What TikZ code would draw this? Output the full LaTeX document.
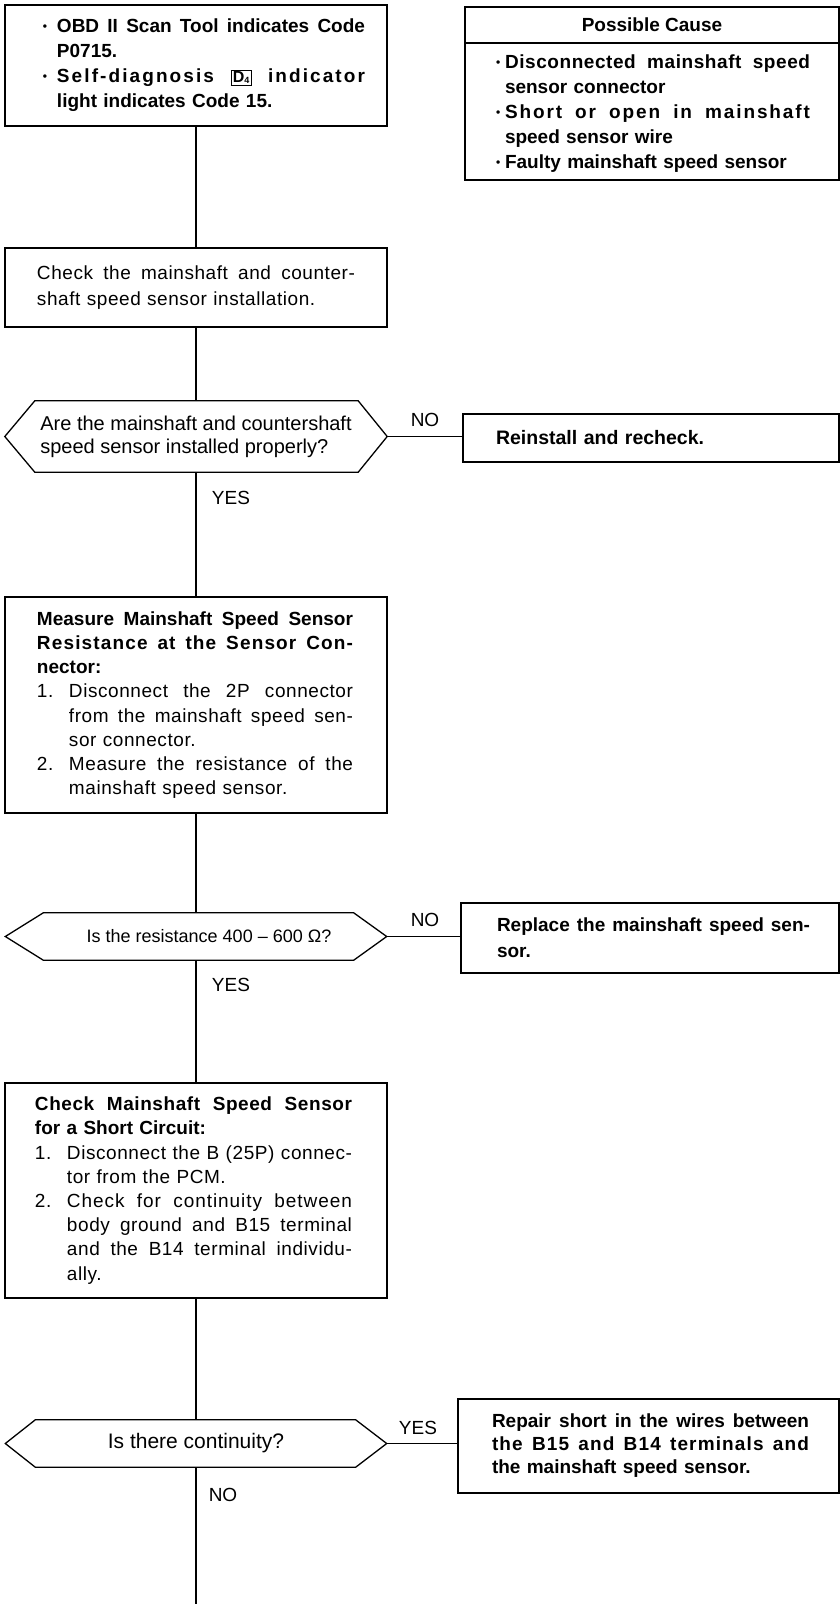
\documentclass[tikz,border=0pt]{standalone}
\usepackage{fontspec}
\setmainfont{Liberation Sans}
\newfontfamily\regsp[LetterSpace=3]{Liberation Sans}
\usetikzlibrary{calc}
\newcommand{\jl}[2]{\makebox[#1pt][s]{\spaceskip=0.28em plus 1fil\relax #2}}
\newcommand{\ls}[1]{\addfontfeature{LetterSpace=#1}}
\newcommand{\bul}[1]{\makebox[#1pt][l]{\raisebox{0.25ex}{\fontsize{12}{12}\selectfont\textbullet}}}
\newcommand{\hd}{\rmfamily\bfseries}
\newcommand{\dfour}{{\setlength\fboxsep{1.2pt}\setlength\fboxrule{1pt}\fbox{\fontsize{16}{16}\selectfont\addfontfeature{LetterSpace=0}D\raisebox{-0.1ex}{\fontsize{9}{9}\selectfont 4}}}}
\tikzset{
  box/.style={draw, line width=1.3pt, inner sep=0pt, align=left},
  txt/.style={inner sep=0pt, align=left},
  hexa/.style={inner sep=0pt, align=left},
  lbl/.style={inner sep=0pt, font=\fontsize{19}{19}\selectfont},
  conn/.style={line width=1.3pt},
}
\begin{document}
\begin{tikzpicture}[x=1pt,y=-1pt]
\useasboundingbox (0,0) rectangle (840,1604);

% top-left box
\node[box, text width=382pt, minimum height=121pt, font={\bfseries\fontsize{19}{25}\selectfont}] (b1) at (196,65.5) {%
\hspace*{38pt}\bul{14}\jl{308}{OBD II Scan Tool indicates Code}\\
\hspace*{52pt}P0715.\\
\hspace*{38pt}\bul{14}\jl{308}{\ls{11}Self-diagnosis \dfour\ indicator}\\
\hspace*{52pt}light indicates Code 15.};

% possible cause
\node[box, minimum width=374pt, minimum height=173pt] (pc) at (652,93.5) {};
\node[txt, font={\bfseries\fontsize{19}{19}\selectfont}] (pch) at (652,25) {Possible Cause};
\draw[conn] (pc.west |- 0,43) -- (pc.east |- 0,43);
\node[txt, text width=374pt, font={\bfseries\fontsize{19}{25}\selectfont}] (pcb) at (652,114) {%
\hspace*{31pt}\bul{9}\jl{305}{\ls{3}Disconnected mainshaft speed}\\
\hspace*{40pt}sensor connector\\
\hspace*{31pt}\bul{9}\jl{305}{\ls{10}Short or open in mainshaft}\\
\hspace*{40pt}speed sensor wire\\
\hspace*{31pt}\bul{9}Faulty mainshaft speed sensor};

% box 2
\node[box, text width=382pt, minimum height=79pt, font={\regsp\fontsize{19}{26}\selectfont}] (b2) at (196,287.5) {%
\hspace*{32pt}\jl{318}{Check the mainshaft and counter-}\\
\hspace*{32pt}shaft speed sensor installation.};

% decision 1
\node[hexa, minimum width=382pt, minimum height=71pt, font={\fontsize{20}{23}\selectfont}] (d1) at (196,436.5) {%
Are the mainshaft and countershaft\\speed sensor installed properly?};
\draw[conn] (d1.west) -- ([xshift=30pt]d1.north west) -- ([xshift=-29pt]d1.north east) -- (d1.east) -- ([xshift=-29pt]d1.south east) -- ([xshift=30pt]d1.south west) -- cycle;

\node[box, text width=376pt, minimum height=48pt, font={\bfseries\fontsize{19.5}{23}\selectfont}] (r1) at (651,438) {%
\hspace*{33pt}Reinstall and recheck.};
\node[lbl] (no1) at (425,420) {NO};
\node[lbl] (yes1) at (231,498) {YES};

% box 3
\node[box, text width=382pt, minimum height=216pt, font={\regsp\fontsize{19}{24.2}\selectfont}] (b3) at (196,705) {%
\hspace*{32pt}\jl{316}{\hd Measure Mainshaft Speed Sensor}\\
\hspace*{32pt}\jl{316}{\hd\ls{6}Resistance at the Sensor Con-}\\
\hspace*{32pt}{\hd nector:}\\
\hspace*{32pt}\makebox[32pt][l]{1.}\jl{284}{Disconnect the 2P connector}\\
\hspace*{64pt}\jl{284}{from the mainshaft speed sen-}\\
\hspace*{64pt}sor connector.\\
\hspace*{32pt}\makebox[32pt][l]{2.}\jl{284}{Measure the resistance of the}\\
\hspace*{64pt}mainshaft speed sensor.};

% decision 2
\node[hexa, minimum width=381pt, minimum height=47pt, font={\fontsize{18}{21}\selectfont}] (d2) at (196,936.5) {%
\hspace*{26pt}Is the resistance 400 -- 600 Ω?};
\draw[conn] (d2.west) -- ([xshift=38pt]d2.north west) -- ([xshift=-33pt]d2.north east) -- (d2.east) -- ([xshift=-33pt]d2.south east) -- ([xshift=38pt]d2.south west) -- cycle;

\node[box, text width=378pt, minimum height=70pt, font={\bfseries\fontsize{19}{26}\selectfont}] (r2) at (650,938) {%
\hspace*{36pt}\jl{313}{Replace the mainshaft speed sen-}\\
\hspace*{36pt}sor.};
\node[lbl] (no2) at (425,920) {NO};
\node[lbl] (yes2) at (231,985) {YES};

% box 4
\node[box, text width=382pt, minimum height=215pt, font={\regsp\fontsize{19}{24.2}\selectfont}] (b4) at (196,1190.5) {%
\hspace*{30pt}\jl{317}{\hd\ls{3}Check Mainshaft Speed Sensor}\\
\hspace*{30pt}{\hd for a Short Circuit:}\\
\hspace*{30pt}\makebox[32pt][l]{1.}\jl{285}{Disconnect the B (25P) connec-}\\
\hspace*{62pt}tor from the PCM.\\
\hspace*{30pt}\makebox[32pt][l]{2.}\jl{285}{\ls{5}Check for continuity between}\\
\hspace*{62pt}\jl{285}{body ground and B15 terminal}\\
\hspace*{62pt}\jl{285}{and the B14 terminal individu-}\\
\hspace*{62pt}ally.};

% decision 3
\node[hexa, minimum width=381pt, minimum height=47pt, font={\fontsize{21}{24}\selectfont}] (d3) at (196,1443.5) {%
Is there continuity?};
\draw[conn] (d3.west) -- ([xshift=30pt]d3.north west) -- ([xshift=-31pt]d3.north east) -- (d3.east) -- ([xshift=-31pt]d3.south east) -- ([xshift=30pt]d3.south west) -- cycle;

\node[box, text width=381pt, minimum height=94pt, font={\bfseries\fontsize{19}{23}\selectfont}] (r3) at (648.5,1446) {%
\hspace*{34pt}\jl{317}{Repair short in the wires between}\\
\hspace*{34pt}\jl{317}{\ls{6}the B15 and B14 terminals and}\\
\hspace*{34pt}the mainshaft speed sensor.};
\node[lbl] (yes3) at (418,1428) {YES};
\node[lbl] (no3) at (223,1495) {NO};

\coordinate (end) at (196,1604);

% connectors
\draw[conn] (b1.south) -- (b2.north);
\draw[conn] (b2.south) -- (d1.north);
\draw[conn] (d1.south) -- (b3.north);
\draw[conn] (b3.south) -- (d2.north);
\draw[conn] (d2.south) -- (b4.north);
\draw[conn] (b4.south) -- (d3.north);
\draw[conn] (d3.south) -- (end);
\draw[conn] (d1.east) -- (d1.east -| r1.west);
\draw[conn] (d2.east) -- (d2.east -| r2.west);
\draw[conn] (d3.east) -- (d3.east -| r3.west);
\end{tikzpicture}
\end{document}
